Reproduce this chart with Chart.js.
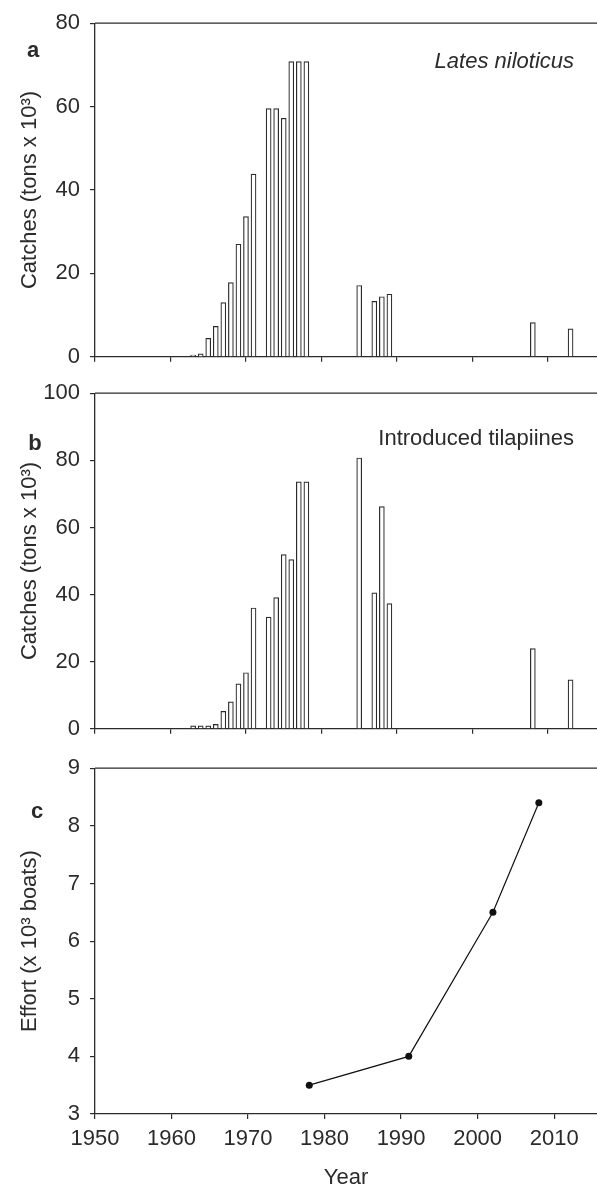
<!DOCTYPE html>
<html>
<head>
  <title>Lates and tilapia catches</title>
  <script src="https://cdn.jsdelivr.net/npm/chart.js"></script>
  <style>
    body { margin: 0; background: #fff; }
    #wrap { position: relative; width: 597px; height: 1189px; }
    canvas { position: absolute; left: 0; }
  </style>
</head>
<body>
<div id="wrap">
  <canvas id="chartA" width="597" height="380" style="top:0px;width:597px;height:380px"></canvas>
  <canvas id="chartB" width="597" height="382" style="top:370px;width:597px;height:382px"></canvas>
  <canvas id="chartC" width="597" height="444" style="top:745px;width:597px;height:444px"></canvas>
</div>
<script>
  // catches in tons x 10^3
  const catchYears = [1963, 1964, 1965, 1966, 1967, 1968, 1969, 1970, 1971,
    1973, 1974, 1975, 1976, 1977, 1978, 1985, 1987, 1988, 1989, 2008, 2013];
  const latesCatch = [0.4, 0.7, 4.4, 7.3, 13, 17.8, 27, 33.6, 43.8,
    59.5, 59.5, 57.2, 70.8, 70.8, 70.8, 17.1, 13.3, 14.4, 15.0, 8.2, 6.7];
  const tilapiaCatch = [0.9, 0.9, 0.9, 1.3, 5.2, 8.0, 13.4, 16.7, 36.0,
    33.3, 39.1, 51.9, 50.4, 73.6, 73.6, 80.7, 40.5, 66.2, 37.3, 23.9, 14.6];

  // fishing effort, x 10^3 boats
  const effortYears = [1978, 1991, 2002, 2008];
  const effortBoats = [3.5, 4.0, 6.5, 8.4];

  const yearTicks = [1950, 1960, 1970, 1980, 1990, 2000, 2010];

  const ink = '#2b2b2b';
  const family = '"Liberation Sans", Arial, sans-serif';

  function points(xs, ys) {
    return xs.map((x, i) => ({ x: x, y: ys[i] }));
  }

  function decor(letter, letterDx, letterDy, note, italic, noteDy) {
    return {
      id: 'decor',
      afterDraw(chart) {
        const { ctx, chartArea: a } = chart;
        ctx.save();
        ctx.strokeStyle = ink;
        ctx.lineWidth = 1.3;
        ctx.beginPath();
        ctx.moveTo(a.left, a.top);
        ctx.lineTo(a.right, a.top);
        ctx.stroke();
        ctx.fillStyle = ink;
        ctx.textBaseline = 'alphabetic';
        ctx.textAlign = 'center';
        ctx.font = 'bold 22px ' + family;
        ctx.fillText(letter, a.left + letterDx, a.top + letterDy);
        if (note) {
          ctx.textAlign = 'right';
          ctx.font = (italic ? 'italic ' : '') + '22px ' + family;
          ctx.fillText(note, a.right - 23, a.top + noteDy);
        }
        ctx.restore();
      }
    };
  }

  function options(cfg) {
    return {
      responsive: false,
      animation: false,
      devicePixelRatio: 1,
      layout: { autoPadding: false, padding: { top: cfg.padTop, left: 0, right: 0, bottom: 0 } },
      plugins: { legend: { display: false }, tooltip: { enabled: false } },
      scales: {
        x: {
          type: 'linear',
          min: 1950,
          max: cfg.xMax,
          offset: false,
          afterBuildTicks: s => { s.ticks = yearTicks.map(v => ({ value: v })); },
          afterFit: s => { s.height = cfg.xHeight; },
          ticks: {
            display: cfg.xLabels,
            padding: 7,
            color: ink,
            font: { family: family, size: 22 },
            callback: v => String(v)
          },
          grid: { offset: false, drawOnChartArea: false, tickLength: 5, color: ink, lineWidth: 1.2 },
          border: { color: ink, width: 1.3 },
          title: {
            display: cfg.xLabels,
            text: 'Year',
            color: ink,
            padding: 0,
            font: { family: family, size: 22, lineHeight: 1 }
          }
        },
        y: {
          min: cfg.yMin,
          max: cfg.yMax,
          afterFit: s => { s.width = 95; },
          ticks: {
            stepSize: cfg.yStep,
            padding: 10,
            color: ink,
            font: { family: family, size: 22 },
            callback: v => String(v)
          },
          grid: { drawOnChartArea: false, tickLength: 5, color: ink, lineWidth: 1.2 },
          border: { color: ink, width: 1.3 },
          title: {
            display: true,
            text: cfg.yTitle,
            color: ink,
            padding: { top: 19, bottom: 0 },
            font: { family: family, size: 22, lineHeight: 1 }
          }
        }
      }
    };
  }

  function barDataset(values) {
    return {
      data: points(catchYears, values),
      backgroundColor: '#ffffff',
      borderColor: ink,
      borderWidth: 1.2,
      barThickness: 5
    };
  }

  new Chart(document.getElementById('chartA'), {
    type: 'bar',
    data: { datasets: [barDataset(latesCatch)] },
    options: options({ padTop: 15, xHeight: 14, xMax: 2016.5, xLabels: false,
      yMin: 0, yMax: 80, yStep: 20, yTitle: 'Catches (tons x 10³)' }),
    plugins: [decor('a', -62, 34, 'Lates niloticus', true, 45)]
  });

  new Chart(document.getElementById('chartB'), {
    type: 'bar',
    data: { datasets: [barDataset(tilapiaCatch)] },
    options: options({ padTop: 15, xHeight: 13, xMax: 2016.5, xLabels: false,
      yMin: 0, yMax: 100, yStep: 20, yTitle: 'Catches (tons x 10³)' }),
    plugins: [decor('b', -60, 57, 'Introduced tilapiines', false, 52)]
  });

  new Chart(document.getElementById('chartC'), {
    type: 'line',
    data: {
      datasets: [{
        data: points(effortYears, effortBoats),
        borderColor: '#111',
        borderWidth: 1.2,
        backgroundColor: '#111',
        pointRadius: 3.5,
        pointBorderWidth: 0,
        tension: 0
      }]
    },
    options: options({ padTop: 17, xHeight: 75, xMax: 2015.6, xLabels: true,
      yMin: 3, yMax: 9, yStep: 1, yTitle: 'Effort (x 10³ boats)' }),
    plugins: [decor('c', -58, 50, null, false, 0)]
  });
</script>
</body>
</html>
